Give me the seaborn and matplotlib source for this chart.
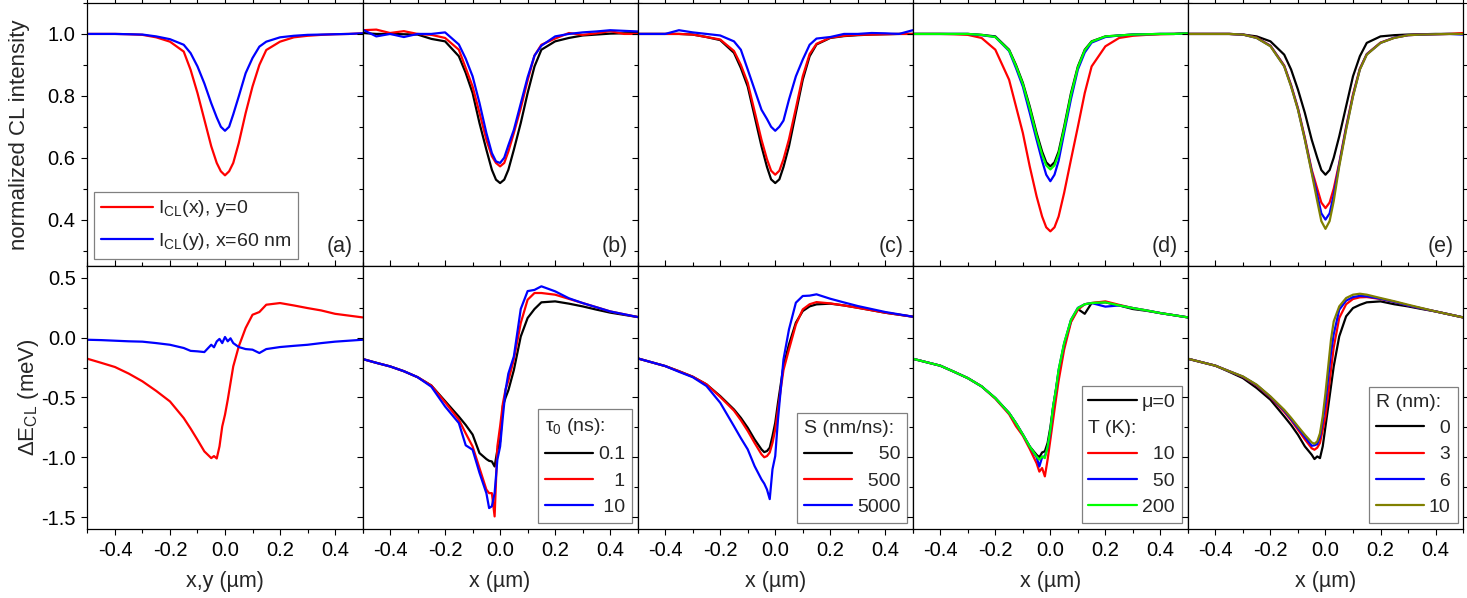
import matplotlib
matplotlib.use("Agg")
import matplotlib.pyplot as plt
import seaborn as sns
from matplotlib.lines import Line2D
from matplotlib.ticker import MultipleLocator, FormatStrFormatter

# ---------------- data ----------------
XG = [-0.5, -0.45, -0.4, -0.35, -0.3, -0.25, -0.2, -0.15, -0.125, -0.1, -0.075, -0.05, -0.03, -0.015, 0.0,
      0.015, 0.03, 0.05, 0.075, 0.1, 0.125, 0.15, 0.2, 0.25, 0.3, 0.35, 0.4, 0.45, 0.5]

XB = [-0.5, -0.45, -0.4, -0.35, -0.3, -0.25, -0.2, -0.15, -0.125, -0.1, -0.075, -0.05, -0.04, -0.03, -0.02,
      -0.01, 0.0, 0.01, 0.02, 0.03, 0.05, 0.075, 0.1, 0.125, 0.15, 0.2, 0.25, 0.3, 0.35, 0.4, 0.5]

# top row: normalized CL intensity
top_a_red = [1.0, 1.0, 1.0, 0.999, 0.997, 0.989, 0.975, 0.943, 0.884, 0.809, 0.723, 0.637, 0.583, 0.556, 0.543,
             0.556, 0.583, 0.647, 0.744, 0.83, 0.90, 0.948, 0.975, 0.989, 0.994, 0.997, 0.999, 1.0, 1.002]
top_a_blue = [1.0, 1.0, 1.0, 0.999, 0.998, 0.992, 0.983, 0.965, 0.938, 0.895, 0.84, 0.776, 0.73, 0.70, 0.687,
              0.70, 0.74, 0.798, 0.873, 0.922, 0.959, 0.975, 0.989, 0.994, 0.997, 0.998, 0.999, 1.0, 1.002]

top_b_black = [1.003, 1.0, 1.0, 0.999, 0.998, 0.984, 0.976, 0.928, 0.874, 0.809, 0.712, 0.626, 0.561, 0.529, 0.518,
               0.529, 0.561, 0.626, 0.712, 0.809, 0.895, 0.949, 0.976, 0.987, 0.995, 0.998, 1.001, 1.002, 1.003]
top_b_red = [1.012, 1.014, 1.003, 1.009, 1.0, 0.997, 0.987, 0.949, 0.89, 0.83, 0.745, 0.658, 0.605, 0.583, 0.572,
             0.583, 0.62, 0.68, 0.76, 0.85, 0.93, 0.965, 0.985, 1.003, 0.997, 1.002, 1.009, 1.0, 1.0]
top_b_blue = [1.014, 0.992, 1.0, 0.99, 1.0, 1.0, 1.005, 0.966, 0.92, 0.863, 0.777, 0.68, 0.615, 0.588, 0.583,
              0.60, 0.64, 0.69, 0.775, 0.86, 0.93, 0.962, 0.992, 1.0, 1.005, 1.008, 1.012, 1.01, 1.008]

top_c_black = [1.0, 1.0, 1.0, 1.0, 0.998, 0.99, 0.98, 0.939, 0.89, 0.83, 0.734, 0.637, 0.57, 0.53, 0.518,
               0.53, 0.57, 0.637, 0.745, 0.852, 0.928, 0.966, 0.987, 0.993, 0.996, 0.998, 0.999, 1.0, 1.0]
top_c_red = [1.0, 1.0, 1.0, 1.0, 0.998, 0.99, 0.982, 0.945, 0.90, 0.842, 0.75, 0.658, 0.595, 0.558, 0.545,
             0.558, 0.595, 0.66, 0.76, 0.863, 0.935, 0.968, 0.988, 0.994, 0.997, 0.998, 0.999, 1.0, 1.0]
top_c_blue = [1.0, 1.0, 1.0, 1.012, 1.005, 1.0, 0.995, 0.976, 0.949, 0.885, 0.82, 0.755, 0.725, 0.70, 0.687,
              0.70, 0.72, 0.788, 0.863, 0.917, 0.965, 0.985, 0.99, 1.0, 1.0, 1.003, 1.002, 1.0, 1.012]

top_d_black = [1.0, 1.0, 1.0, 1.0, 1.0, 0.997, 0.992, 0.949, 0.90, 0.842, 0.766, 0.68, 0.62, 0.585, 0.572,
               0.585, 0.62, 0.70, 0.809, 0.895, 0.949, 0.976, 0.992, 0.995, 0.998, 0.999, 1.0, 1.0, 1.002]
top_d_red = [1.0, 1.0, 1.0, 0.999, 0.997, 0.987, 0.949, 0.852, 0.766, 0.68, 0.572, 0.475, 0.41, 0.375, 0.362,
             0.375, 0.41, 0.486, 0.594, 0.70, 0.809, 0.895, 0.96, 0.987, 0.994, 0.997, 0.999, 1.0, 1.002]
top_d_blue = [1.0, 1.0, 1.0, 1.0, 1.0, 0.996, 0.99, 0.945, 0.89, 0.83, 0.745, 0.658, 0.59, 0.545, 0.524,
              0.545, 0.59, 0.68, 0.79, 0.885, 0.94, 0.972, 0.99, 0.995, 0.998, 0.999, 1.0, 1.0, 1.002]
top_d_green = [1.0, 1.0, 1.0, 1.0, 1.0, 0.997, 0.99, 0.947, 0.897, 0.838, 0.76, 0.672, 0.61, 0.575, 0.562,
               0.575, 0.612, 0.693, 0.803, 0.892, 0.947, 0.975, 0.992, 0.995, 0.998, 0.999, 1.0, 1.0, 1.002]

top_e_black = [1.0, 1.0, 1.0, 1.0, 0.998, 0.992, 0.976, 0.933, 0.885, 0.82, 0.745, 0.658, 0.60, 0.56, 0.545,
               0.56, 0.60, 0.669, 0.766, 0.863, 0.928, 0.971, 0.992, 0.996, 0.998, 0.999, 1.0, 1.0, 1.0]
top_e_red = [1.0, 1.0, 1.0, 1.0, 0.998, 0.988, 0.962, 0.898, 0.835, 0.76, 0.665, 0.561, 0.50, 0.455, 0.437,
             0.455, 0.50, 0.583, 0.70, 0.805, 0.888, 0.935, 0.972, 0.988, 0.996, 0.998, 0.999, 1.0, 1.003]
top_e_blue = [1.0, 1.0, 1.0, 1.0, 0.998, 0.987, 0.961, 0.896, 0.832, 0.757, 0.66, 0.555, 0.48, 0.42, 0.40,
              0.42, 0.48, 0.578, 0.695, 0.80, 0.886, 0.934, 0.971, 0.988, 0.996, 0.998, 0.999, 1.0, 0.998]
top_e_olive = [1.0, 1.0, 1.0, 1.0, 0.998, 0.987, 0.96, 0.895, 0.83, 0.755, 0.658, 0.55, 0.46, 0.395, 0.37,
               0.395, 0.46, 0.572, 0.69, 0.798, 0.885, 0.933, 0.971, 0.987, 0.996, 0.998, 0.999, 1.0, 1.0]

# bottom row: Delta E_CL (meV)
bot_a_red = [-0.176, -0.21, -0.245, -0.30, -0.365, -0.445, -0.533, -0.672, -0.76, -0.854, -0.951, -1.007, -0.99,
             -1.01, -0.909, -0.742, -0.644, -0.519, -0.379, -0.24, -0.073, 0.081, 0.192, 0.215, 0.276, 0.29,
             0.27, 0.248, 0.228, 0.20, 0.17]
bot_a_blue = [-0.017, -0.02, -0.025, -0.03, -0.033, -0.045, -0.059, -0.086, -0.11, -0.114, -0.12, -0.059, -0.08,
              -0.031, -0.01, -0.045, 0.006, -0.03, -0.005, -0.045, -0.078, -0.095, -0.10, -0.128, -0.095, -0.078,
              -0.068, -0.059, -0.045, -0.033, -0.017]

bot_b_black = [-0.178, -0.21, -0.24, -0.28, -0.33, -0.40, -0.53, -0.66, -0.73, -0.81, -0.965, -1.015, -1.03,
               -1.035, -1.077, -0.94, -0.87, -0.57, -0.50, -0.44, -0.27, 0.01, 0.165, 0.24, 0.296, 0.304,
               0.285, 0.262, 0.235, 0.21, 0.173]
bot_b_red = [-0.178, -0.21, -0.24, -0.28, -0.33, -0.40, -0.54, -0.686, -0.80, -0.91, -1.09, -1.27, -1.30,
             -1.30, -1.495, -0.91, -0.74, -0.55, -0.43, -0.36, -0.18, 0.123, 0.318, 0.374, 0.374, 0.36,
             0.325, 0.29, 0.255, 0.22, 0.173]
bot_b_blue = [-0.178, -0.21, -0.24, -0.28, -0.33, -0.41, -0.575, -0.714, -0.90, -0.937, -1.13, -1.30, -1.425,
              -1.41, -1.30, -1.02, -0.91, -0.66, -0.435, -0.30, -0.156, 0.24, 0.39, 0.40, 0.43, 0.388,
              0.33, 0.29, 0.255, 0.22, 0.173]

bot_c_black = [-0.173, -0.205, -0.237, -0.28, -0.326, -0.39, -0.488, -0.60, -0.67, -0.753, -0.851, -0.934, -0.957,
               -0.948, -0.92, -0.823, -0.711, -0.544, -0.39, -0.237, -0.056, 0.126, 0.223, 0.262, 0.279, 0.285,
               0.27, 0.251, 0.23, 0.209, 0.176]
bot_c_red = [-0.173, -0.205, -0.237, -0.28, -0.326, -0.39, -0.495, -0.61, -0.69, -0.78, -0.88, -0.975, -1.0,
             -0.99, -0.96, -0.88, -0.767, -0.60, -0.43, -0.27, -0.098, 0.11, 0.237, 0.28, 0.298, 0.287,
             0.27, 0.25, 0.23, 0.209, 0.176]
bot_c_blue = [-0.173, -0.205, -0.237, -0.285, -0.33, -0.404, -0.544, -0.74, -0.84, -0.934, -1.074, -1.185, -1.22,
              -1.27, -1.35, -1.10, -0.99, -0.683, -0.432, -0.181, 0.07, 0.293, 0.349, 0.352, 0.363, 0.326,
              0.295, 0.265, 0.24, 0.215, 0.176]

bot_d_black = [-0.176, -0.205, -0.234, -0.285, -0.338, -0.407, -0.505, -0.63, -0.715, -0.81, -0.91, -0.98, -1.0,
               -0.96, -0.95, -0.88, -0.75, -0.58, -0.44, -0.29, -0.06, 0.14, 0.24, 0.20, 0.29, 0.296,
               0.27, 0.24, 0.225, 0.206, 0.17]
bot_d_red = [-0.176, -0.205, -0.234, -0.285, -0.338, -0.407, -0.51, -0.64, -0.74, -0.82, -0.93, -1.05, -1.12,
             -1.09, -1.16, -1.02, -0.854, -0.686, -0.52, -0.36, -0.10, 0.13, 0.234, 0.28, 0.29, 0.304,
             0.275, 0.248, 0.228, 0.206, 0.17]
bot_d_blue = [-0.176, -0.205, -0.234, -0.285, -0.338, -0.407, -0.505, -0.63, -0.715, -0.81, -0.91, -1.0, -1.077,
              -1.0, -0.99, -0.92, -0.78, -0.58, -0.44, -0.27, -0.05, 0.15, 0.25, 0.28, 0.29, 0.26,
              0.27, 0.248, 0.228, 0.206, 0.17]
bot_d_green = [-0.176, -0.205, -0.234, -0.285, -0.338, -0.407, -0.505, -0.63, -0.715, -0.81, -0.91, -0.993, -1.02,
               -0.993, -1.007, -0.91, -0.77, -0.575, -0.435, -0.268, -0.045, 0.15, 0.248, 0.28, 0.29, 0.296,
               0.27, 0.248, 0.228, 0.206, 0.17]

bot_e_black = [-0.176, -0.205, -0.234, -0.285, -0.338, -0.421, -0.519, -0.658, -0.73, -0.812, -0.909, -0.979, -1.015,
               -0.993, -1.007, -0.909, -0.742, -0.575, -0.407, -0.24, 0.011, 0.179, 0.248, 0.275, 0.296, 0.304,
               0.28, 0.262, 0.24, 0.22, 0.17]
bot_e_red = [-0.176, -0.205, -0.234, -0.28, -0.328, -0.40, -0.50, -0.62, -0.69, -0.77, -0.85, -0.925, -0.937,
             -0.92, -0.88, -0.77, -0.658, -0.47, -0.268, -0.08, 0.165, 0.28, 0.324, 0.338, 0.34, 0.324,
             0.30, 0.27, 0.245, 0.22, 0.17]
bot_e_blue = [-0.176, -0.205, -0.234, -0.28, -0.326, -0.396, -0.495, -0.61, -0.68, -0.755, -0.83, -0.904, -0.90,
              -0.89, -0.83, -0.70, -0.547, -0.33, -0.128, 0.03, 0.234, 0.31, 0.34, 0.35, 0.346, 0.326,
              0.30, 0.27, 0.245, 0.22, 0.17]
bot_e_olive = [-0.176, -0.205, -0.234, -0.28, -0.324, -0.393, -0.491, -0.603, -0.67, -0.742, -0.812, -0.876, -0.887,
               -0.868, -0.80, -0.658, -0.463, -0.24, -0.017, 0.137, 0.262, 0.332, 0.36, 0.368, 0.36, 0.332,
               0.305, 0.276, 0.248, 0.22, 0.17]

panel_letters = ["(a)", "(b)", "(c)", "(d)", "(e)"]
x_labels = ["x,y (\u00b5m)", "x (\u00b5m)", "x (\u00b5m)", "x (\u00b5m)", "x (\u00b5m)"]

RED, BLUE, BLACK, GREEN, OLIVE = "#ff0000", "#0000ff", "#000000", "#00ff00", "#808000"

top_curves = [
    [(top_a_red, RED), (top_a_blue, BLUE)],
    [(top_b_black, BLACK), (top_b_red, RED), (top_b_blue, BLUE)],
    [(top_c_black, BLACK), (top_c_red, RED), (top_c_blue, BLUE)],
    [(top_d_black, BLACK), (top_d_red, RED), (top_d_blue, BLUE), (top_d_green, GREEN)],
    [(top_e_black, BLACK), (top_e_red, RED), (top_e_blue, BLUE), (top_e_olive, OLIVE)],
]
bot_curves = [
    [(bot_a_red, RED), (bot_a_blue, BLUE)],
    [(bot_b_black, BLACK), (bot_b_red, RED), (bot_b_blue, BLUE)],
    [(bot_c_black, BLACK), (bot_c_red, RED), (bot_c_blue, BLUE)],
    [(bot_d_black, BLACK), (bot_d_red, RED), (bot_d_blue, BLUE), (bot_d_green, GREEN)],
    [(bot_e_black, BLACK), (bot_e_red, RED), (bot_e_blue, BLUE), (bot_e_olive, OLIVE)],
]

# ---------------- style ----------------
sns.set_theme(style="ticks")
plt.rcParams["font.family"] = ["Liberation Sans", "DejaVu Sans"]
plt.rcParams["mathtext.fontset"] = "custom"
plt.rcParams["mathtext.rm"] = "Liberation Sans"
plt.rcParams["mathtext.it"] = "Liberation Sans:italic"
plt.rcParams["mathtext.default"] = "regular"
plt.rcParams["axes.unicode_minus"] = False

TICK_FS = 14.5
LAB_FS = 15.5
LEG_FS = 14
LW = 1.6

fig, axes = plt.subplots(2, 5, figsize=(14.67, 5.98), dpi=100)
fig.subplots_adjust(left=0.0596, right=0.9973, top=0.995, bottom=0.1154, wspace=0, hspace=0)

for row in range(2):
    for col in range(5):
        ax = axes[row, col]
        curves = top_curves[col] if row == 0 else bot_curves[col]
        xs = XG if row == 0 else XB
        for vals, colr in curves:
            sns.lineplot(x=xs, y=vals, color=colr, linewidth=LW, ax=ax,
                         estimator=None, sort=False, legend=False)
        ax.set_xlim(-0.5, 0.5)
        ax.xaxis.set_major_locator(MultipleLocator(0.2))
        ax.xaxis.set_minor_locator(MultipleLocator(0.1))
        ax.xaxis.set_major_formatter(FormatStrFormatter("%.1f"))
        if row == 0:
            ax.set_ylim(0.25, 1.1)
            ax.yaxis.set_major_locator(MultipleLocator(0.2))
            ax.yaxis.set_minor_locator(MultipleLocator(0.1))
        else:
            ax.set_ylim(-1.6, 0.6)
            ax.yaxis.set_major_locator(MultipleLocator(0.5))
            ax.yaxis.set_minor_locator(MultipleLocator(0.25))
        ax.yaxis.set_major_formatter(FormatStrFormatter("%.1f"))
        ax.tick_params(which="both", direction="out", top=True, right=True, bottom=True, left=True,
                       color="black", width=0.8, labelsize=TICK_FS, pad=4, labelcolor="black")
        ax.tick_params(which="major", length=4.5)
        ax.tick_params(which="minor", length=3)
        ax.tick_params(labelbottom=(row == 1), labelleft=(col == 0))
        for sp in ax.spines.values():
            sp.set_linewidth(0.9)
            sp.set_color("black")
        ax.set_xlabel("")
        ax.set_ylabel("")
        if row == 0:
            ax.text(0.965, 0.035, panel_letters[col], transform=ax.transAxes, ha="right", va="bottom",
                    fontsize=LAB_FS)
        else:
            ax.set_xlabel(x_labels[col], fontsize=LAB_FS, labelpad=8)

axes[0, 0].set_ylabel("normalized CL intensity", fontsize=LAB_FS + 0.5)
axes[0, 0].yaxis.set_label_coords(-0.21, 0.5)
axes[1, 0].set_ylabel("\u0394E$_{CL}$ (meV)", fontsize=LAB_FS + 0.5)
axes[1, 0].yaxis.set_label_coords(-0.17, 0.5)

leg_kw = dict(fontsize=LEG_FS, frameon=True, fancybox=False, framealpha=1, edgecolor="#808080",
              borderaxespad=0, handletextpad=0.25, borderpad=0.35)


def handles_of(ax):
    return [Line2D([], [], color=l.get_color(), linewidth=LW) for l in ax.get_lines()]


# (a)
h = handles_of(axes[0, 0])
lg = axes[0, 0].legend(h, ["I$_{CL}$(x), y=0", "I$_{CL}$(y), x=60 nm"], loc="lower left",
                       bbox_to_anchor=(0.024, 0.027), handlelength=2.7, labelspacing=0.6, **leg_kw)
lg.get_frame().set_linewidth(0.9)

FS, PS = "\u2007", "\u2008"
# (b)
h = handles_of(axes[1, 1])
lg = axes[1, 1].legend(h, ["0.1", FS + PS + "1", PS + "10"], title="\u03c4$_0$ (ns):", title_fontsize=LEG_FS,
                       alignment="left", loc="lower right", bbox_to_anchor=(0.98, 0.023), handlelength=2.5,
                       labelspacing=0.45, **leg_kw)
lg.get_frame().set_linewidth(0.9)
# (c)
h = handles_of(axes[1, 2])
lg = axes[1, 2].legend(h, [FS + FS + "50", FS + "500", "5000"], title="S (nm/ns):", title_fontsize=LEG_FS,
                       alignment="left", loc="lower right", bbox_to_anchor=(0.98, 0.023), handlelength=2.5,
                       labelspacing=0.45, **leg_kw)
lg.get_frame().set_linewidth(0.9)
# (d)
h = handles_of(axes[1, 3])
blank = Line2D([], [], color="none")
lg = axes[1, 3].legend([h[0], blank, h[1], h[2], h[3]], ["\u03bc=0", "T (K):", FS + "10", FS + "50", "200"],
                       loc="lower right", bbox_to_anchor=(0.98, 0.023), handlelength=2.5,
                       labelspacing=0.45, **leg_kw)
lg.get_frame().set_linewidth(0.9)
try:
    col_box = lg._legend_handle_box.get_children()[0]
    trow = col_box.get_children()[1]
    trow.sep = 0
    trow.get_children()[0].width = 0
except Exception:
    pass
# (e)
h = handles_of(axes[1, 4])
lg = axes[1, 4].legend(h, [FS + "0", FS + "3", FS + "6", "10"], title="R (nm):", title_fontsize=LEG_FS,
                       alignment="left", loc="lower right", bbox_to_anchor=(0.98, 0.023), handlelength=2.5,
                       labelspacing=0.45, **leg_kw)
lg.get_frame().set_linewidth(0.9)

fig.savefig("out.png", dpi=100)
